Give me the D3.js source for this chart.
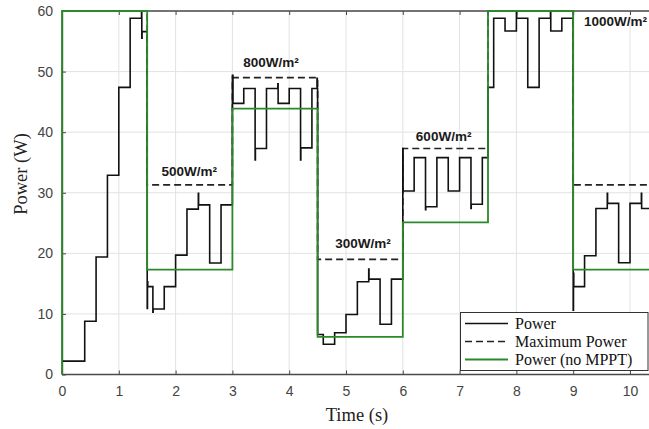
<!DOCTYPE html>
<html>
<head>
<meta charset="utf-8">
<script src="https://cdn.jsdelivr.net/npm/d3@7"></script>
<style>
  html, body { margin: 0; padding: 0; background: #fff; }
  svg { display: block; }
</style>
</head>
<body>
<svg id="chart" width="649" height="429"></svg>
<script>
// ---------------- data ----------------
const xTicks = [0, 1, 2, 3, 4, 5, 6, 7, 8, 9, 10];
const yTicks = [0, 10, 20, 30, 40, 50, 60];

// Power with MPPT: [time (s), power (W)], step-after
const powerSteps = [
  [0, 2.2], [0.4, 8.8], [0.6, 19.4], [0.8, 32.9], [1.0, 47.4], [1.2, 58.8],
  [1.4, 60], [1.405, 55.5], [1.41, 56.6],
  [1.5, 10.9], [1.505, 15.3], [1.51, 14.5], [1.6, 10.3], [1.605, 10.8], [1.8, 14.5],
  [2.0, 19.7], [2.2, 27.3], [2.4, 29.9], [2.405, 28.0], [2.6, 18.4], [2.8, 28.0],
  [3.0, 49.4], [3.01, 44.75], [3.2, 47.2], [3.4, 35.4], [3.405, 37.3], [3.6, 47.2],
  [3.8, 48.0], [3.805, 44.75], [4.0, 47.2], [4.2, 35.4], [4.205, 37.4], [4.4, 47.2],
  [4.49, 48.9], [4.495, 47.2],
  [4.5, 6.6], [4.6, 5.0], [4.8, 6.9], [5.0, 9.9], [5.2, 15.3], [5.4, 17.4], [5.405, 15.75],
  [5.6, 8.3], [5.8, 15.75],
  [6.0, 37.3], [6.005, 30.3], [6.2, 35.8], [6.4, 27.2], [6.405, 27.7], [6.6, 35.8],
  [6.8, 30.3], [7.0, 35.8], [7.2, 27.4], [7.205, 28.1], [7.4, 35.8],
  [7.5, 47.4], [7.6, 58.8], [7.8, 56.7], [8.0, 59.8], [8.005, 58.8], [8.2, 47.4],
  [8.4, 58.8], [8.6, 60], [8.605, 56.7], [8.8, 58.8],
  [9.0, 10.6], [9.005, 16.7], [9.01, 14.5], [9.2, 19.6], [9.4, 27.4], [9.6, 29.9],
  [9.605, 28.25], [9.8, 18.45], [10.0, 28.25], [10.2, 29.9], [10.205, 27.4], [10.5, 27.4]
];

// Maximum available power per irradiance step
const maxPowerSteps = [
  [0, 60], [1.5, 31.3], [3.0, 49.0], [4.5, 19.0], [6.0, 37.3], [7.5, 60], [9.0, 31.3], [10.5, 31.3]
];

// Power without MPPT
const noMpptSteps = [
  [0, 0], [0, 60], [1.5, 17.3], [3.0, 43.9], [4.5, 6.2], [6.0, 25.1], [7.5, 60], [9.0, 17.3], [10.5, 17.3]
];

// Irradiance labels: [time position, power position, text]
const irradianceLabels = [
  [1.75, 32.8, "500W/m²"],
  [3.19, 50.7, "800W/m²"],
  [4.81, 20.9, "300W/m²"],
  [6.23, 38.5, "600W/m²"],
  [9.19, 57.5, "1000W/m²"]
];

const legendItems = [
  { label: "Power", color: "#111", dash: null, width: 1.6 },
  { label: "Maximum Power", color: "#222", dash: "7,4", width: 1.6 },
  { label: "Power (no MPPT)", color: "#2a8a2a", dash: null, width: 1.8 }
];

(function () {
// ---------------- layout ----------------
const pLeft = 62, pTop = 11, pBottom = 374.5;
const svg = d3.select("#chart");

const x = d3.scaleLinear().domain([0, 10]).range([pLeft, 630]);
const y = d3.scaleLinear().domain([0, 60]).range([pBottom, pTop]);
const xEnd = x(10.5);

const sansFont = "'Liberation Sans', Arial, sans-serif";
const serifFont = "'Liberation Serif', 'Times New Roman', serif";

// grid
const grid = svg.append("g").attr("stroke", "#e2e2e2").attr("stroke-width", 1);
xTicks.forEach(t => grid.append("line")
  .attr("x1", x(t)).attr("x2", x(t)).attr("y1", pTop).attr("y2", pBottom));
yTicks.forEach(v => grid.append("line")
  .attr("x1", pLeft).attr("x2", xEnd).attr("y1", y(v)).attr("y2", y(v)));

// axes
const xAxis = d3.axisBottom(x).tickValues(xTicks).tickFormat(d3.format("d"))
  .tickSizeInner(-4).tickSizeOuter(0).tickPadding(12);
const gx = svg.append("g").attr("transform", `translate(0,${pBottom})`).call(xAxis);
gx.select(".domain").attr("d", `M${pLeft},0H${xEnd}`);

const yAxis = d3.axisLeft(y).tickValues(yTicks).tickFormat(d3.format("d"))
  .tickSizeInner(-4).tickSizeOuter(0).tickPadding(9);
const gy = svg.append("g").attr("transform", `translate(${pLeft},0)`).call(yAxis);

// top border with ticks
const xTop = d3.axisTop(x).tickValues(xTicks).tickFormat("").tickSizeInner(-4).tickSizeOuter(0);
const gt = svg.append("g").attr("transform", `translate(0,${pTop})`).call(xTop);
gt.select(".domain").attr("d", `M${pLeft},0H${xEnd}`);

[gx, gy, gt].forEach(g => {
  g.select(".domain").attr("stroke", "#4a4a4a").attr("stroke-width", 1.4);
  g.selectAll(".tick line").attr("stroke", "#4a4a4a").attr("stroke-width", 1);
  g.selectAll(".tick text").attr("fill", "#444").attr("font-family", sansFont).attr("font-size", 14);
});

// clip
svg.append("clipPath").attr("id", "plotclip").append("rect")
  .attr("x", pLeft - 2).attr("y", pTop - 2).attr("width", xEnd - pLeft + 4).attr("height", pBottom - pTop + 4);
const plot = svg.append("g").attr("clip-path", "url(#plotclip)");

const line = d3.line().x(d => x(d[0])).y(d => y(d[1])).curve(d3.curveStepAfter);

plot.append("path").datum(maxPowerSteps).attr("d", line)
  .attr("fill", "none").attr("stroke", "#222").attr("stroke-width", 1.6).attr("stroke-dasharray", "7,4");

plot.append("path").datum(powerSteps).attr("d", line)
  .attr("fill", "none").attr("stroke", "#111").attr("stroke-width", 1.6);

plot.append("path").datum(noMpptSteps).attr("d", line)
  .attr("fill", "none").attr("stroke", "#2a8a2a").attr("stroke-width", 1.8);

// irradiance labels
svg.append("g").selectAll("text").data(irradianceLabels).join("text")
  .attr("x", d => x(d[0])).attr("y", d => y(d[1]))
  .attr("font-family", sansFont).attr("font-weight", "bold").attr("font-size", 13.5)
  .attr("fill", "#1a1a1a")
  .text(d => d[2]);

// axis titles
svg.append("text").attr("x", 357).attr("y", 421).attr("text-anchor", "middle")
  .attr("font-family", serifFont).attr("font-size", 18.5).attr("fill", "#222").text("Time (s)");
svg.append("text").attr("transform", "translate(27,174) rotate(-90)").attr("text-anchor", "middle")
  .attr("font-family", serifFont).attr("font-size", 18.5).attr("fill", "#222").text("Power (W)");

// legend
const lg = svg.append("g");
lg.append("rect").attr("x", 460.5).attr("y", 312.5).attr("width", 187.5).attr("height", 58)
  .attr("fill", "#fff").attr("stroke", "#333").attr("stroke-width", 1);
legendItems.forEach((it, i) => {
  const yy = 323.5 + i * 18;
  lg.append("line").attr("x1", 465).attr("x2", 508).attr("y1", yy).attr("y2", yy)
    .attr("stroke", it.color).attr("stroke-width", it.width)
    .attr("stroke-dasharray", it.dash);
  lg.append("text").attr("x", 515).attr("y", yy + 5)
    .attr("font-family", serifFont).attr("font-size", 16).attr("fill", "#111").text(it.label);
});
})();
</script>
</body>
</html>
